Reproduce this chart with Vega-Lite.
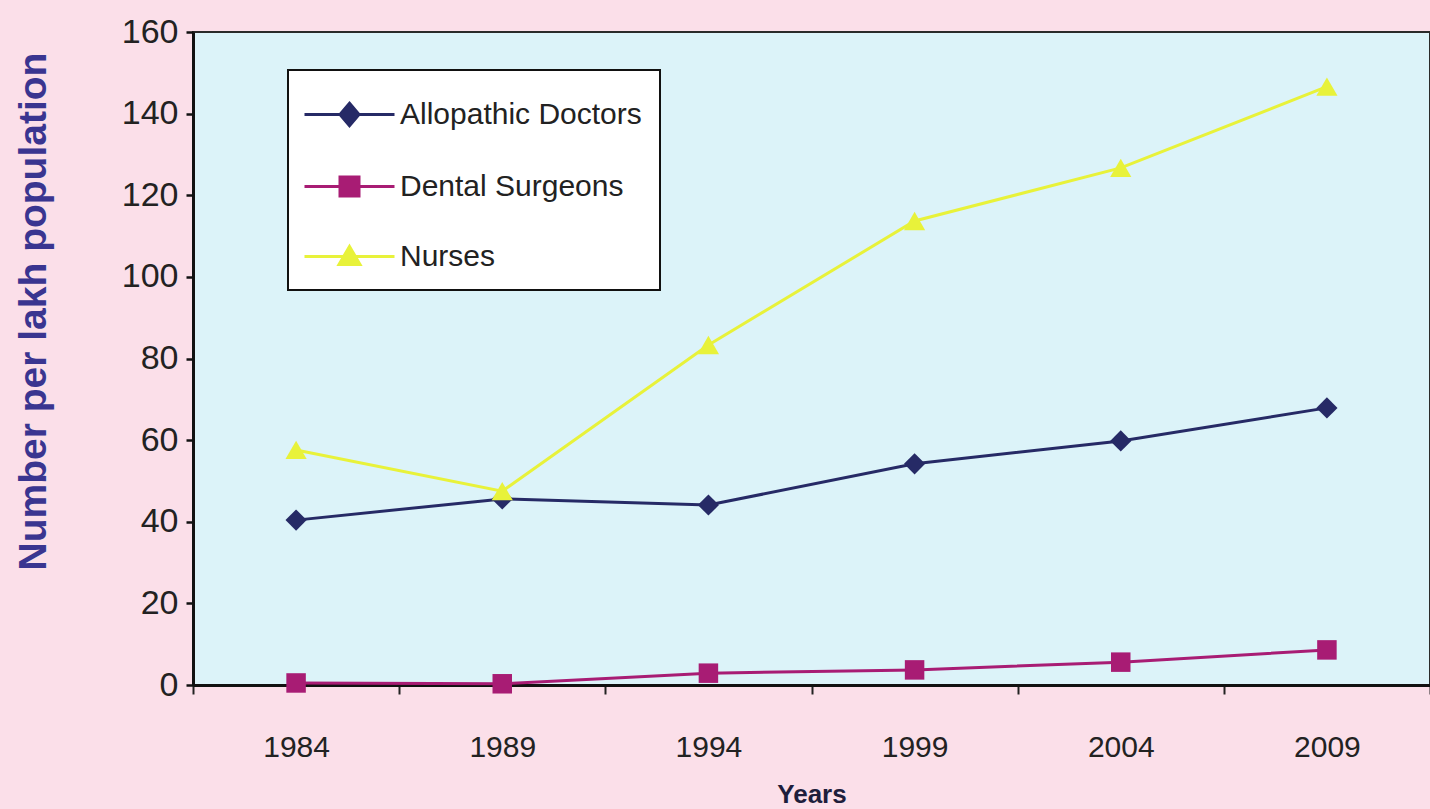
{
  "$schema": "https://vega.github.io/schema/vega-lite/v6.json",
  "width": 1237,
  "height": 653,
  "autosize": {"type": "none"},
  "padding": {"left": 193, "top": 32, "right": 0, "bottom": 124},
  "background": "#fbdfe9",
  "config": {
    "view": {"fill": "#dcf3f9", "stroke": "#2a2a2a", "strokeWidth": 2},
    "font": "Liberation Sans"
  },
  "data": {
    "values": [
      {"year": "1984", "series": "Allopathic Doctors", "value": 40.4},
      {"year": "1989", "series": "Allopathic Doctors", "value": 45.6},
      {"year": "1994", "series": "Allopathic Doctors", "value": 44.1},
      {"year": "1999", "series": "Allopathic Doctors", "value": 54.2},
      {"year": "2004", "series": "Allopathic Doctors", "value": 59.8},
      {"year": "2009", "series": "Allopathic Doctors", "value": 67.9},
      {"year": "1984", "series": "Dental Surgeons", "value": 0.5},
      {"year": "1989", "series": "Dental Surgeons", "value": 0.3},
      {"year": "1994", "series": "Dental Surgeons", "value": 2.9},
      {"year": "1999", "series": "Dental Surgeons", "value": 3.7},
      {"year": "2004", "series": "Dental Surgeons", "value": 5.6},
      {"year": "2009", "series": "Dental Surgeons", "value": 8.6},
      {"year": "1984", "series": "Nurses", "value": 57.6},
      {"year": "1989", "series": "Nurses", "value": 47.5},
      {"year": "1994", "series": "Nurses", "value": 83.3},
      {"year": "1999", "series": "Nurses", "value": 113.7},
      {"year": "2004", "series": "Nurses", "value": 126.7},
      {"year": "2009", "series": "Nurses", "value": 146.6}
    ]
  },
  "encoding": {
    "x": {
      "field": "year",
      "type": "ordinal",
      "scale": {"type": "band", "paddingInner": 0, "paddingOuter": 0},
      "axis": {
        "tickBand": "extent",
        "labelAngle": 0,
        "tickSize": 9,
        "tickWidth": 2,
        "tickColor": "#222",
        "domainColor": "#111",
        "domainWidth": 3,
        "labelFontSize": 30,
        "labelColor": "#222",
        "labelPadding": 38,
        "title": "Years",
        "titleFontSize": 26,
        "titleFontWeight": "bold",
        "titleColor": "#1e1e3c",
        "titlePadding": 19
      }
    },
    "y": {
      "field": "value",
      "type": "quantitative",
      "scale": {"domain": [0, 160]},
      "axis": {
        "values": [0, 20, 40, 60, 80, 100, 120, 140, 160],
        "grid": false,
        "tickSize": 7,
        "tickWidth": 2.5,
        "tickColor": "#111",
        "domainColor": "#111",
        "domainWidth": 3,
        "labelFontSize": 34,
        "labelColor": "#222",
        "labelPadding": 8,
        "title": "Number per lakh population",
        "titleFontSize": 39,
        "titleFontWeight": "bold",
        "titleColor": "#3a3590",
        "titleX": -160,
        "titleY": 279,
        "titleAngle": -90,
        "titleAlign": "center",
        "titleBaseline": "middle"
      }
    },
    "color": {
      "field": "series",
      "type": "nominal",
      "scale": {
        "domain": ["Allopathic Doctors", "Dental Surgeons", "Nurses"],
        "range": ["#262a66", "#a81c74", "#e8f23a"]
      },
      "legend": {
        "orient": "none",
        "legendX": 95,
        "legendY": 38,
        "title": null,
        "fillColor": "white",
        "strokeColor": "#111",
        "padding": 18,
        "labelFontSize": 30,
        "labelColor": "#222",
        "labelLimit": 400,
        "symbolOffset": 17,
        "labelOffset": 24,
        "rowPadding": 28,
        "symbolSize": 2500,
        "encode": {
          "legend": {"update": {"strokeWidth": {"value": 2}}},
          "symbols": {
            "update": {
              "shape": {"signal": "datum.value === 'Allopathic Doctors' ? 'M-1.8,0H1.8M0,-0.45L0.38,0L0,0.45L-0.38,0Z' : datum.value === 'Dental Surgeons' ? 'M-1.8,0H1.8M-0.38,-0.38H0.38V0.38H-0.38Z' : 'M-1.8,0H1.8M0,-0.4L0.42,0.32H-0.42Z'"},
              "fill": {"scale": "color", "field": "value"},
              "stroke": {"scale": "color", "field": "value"},
              "strokeWidth": {"signal": "datum.value === 'Nurses' ? 7 : 3"},
              "opacity": {"value": 1}
            }
          }
        }
      }
    }
  },
  "layer": [
    {
      "mark": {"type": "line"},
      "encoding": {
        "strokeWidth": {
          "field": "series",
          "type": "nominal",
          "scale": {"domain": ["Allopathic Doctors", "Dental Surgeons", "Nurses"], "range": [3, 3, 7]},
          "legend": null
        }
      }
    },
    {
      "transform": [{"filter": "datum.series === 'Allopathic Doctors'"}],
      "mark": {"type": "point", "filled": true, "opacity": 1, "size": 450, "shape": "diamond"}
    },
    {
      "transform": [{"filter": "datum.series === 'Dental Surgeons'"}],
      "mark": {"type": "point", "filled": true, "opacity": 1, "size": 380, "shape": "square"}
    },
    {
      "transform": [{"filter": "datum.series === 'Nurses'"}],
      "mark": {"type": "point", "filled": true, "opacity": 1, "size": 450, "shape": "triangle-up"}
    }
  ]
}
